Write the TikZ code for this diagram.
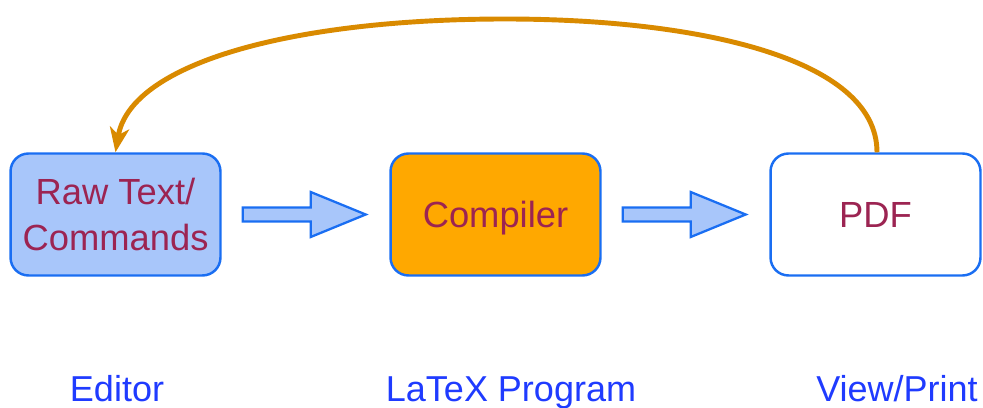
\documentclass[tikz,border=0pt]{standalone}
\usepackage{fontspec}
\setmainfont{Liberation Sans}
\usetikzlibrary{arrows.meta,calc}
\definecolor{boxblue}{HTML}{1A6EF2}
\definecolor{lightblue}{HTML}{A8C6FA}
\definecolor{compileorange}{HTML}{FFA800}
\definecolor{textmaroon}{HTML}{9C2452}
\definecolor{labelblue}{HTML}{1F3BFF}
\definecolor{loopcolor}{HTML}{D98A00}
\begin{document}
\begin{tikzpicture}[x=0.02cm,y=-0.02cm,
  stage/.style={draw=boxblue, line width=1.4pt, rounded corners=0.36cm,
    minimum width=4.2cm, minimum height=2.44cm, align=center,
    text=textmaroon, font=\fontsize{20.7}{26}\selectfont},
  caption/.style={text=labelblue, anchor=base, font=\fontsize{20.5}{24}\selectfont},
  blockarrow/.style={draw=boxblue, fill=lightblue, line width=1.3pt, line join=miter},
  loop/.style={draw=loopcolor, line width=2.8pt,
    -{Stealth[length=14pt,width=11pt,inset=4pt]}}]
  \useasboundingbox (0,0) rectangle (983,408);

  % the three stages
  \node[stage, fill=lightblue] (raw) at (115.5,214.5) {Raw Text/\\Commands};
  \node[stage, fill=compileorange, text depth=0pt] (comp) at (495.5,214.5) {Compiler};
  \node[stage, fill=white] (pdf) at (875.5,214.5) {PDF};

  % block arrows between the stages
  \foreach \src in {raw,comp} {
    \draw[blockarrow]
      ($(\src.east)+(21,-7)$) -- ($(\src.east)+(89,-7)$) -- ($(\src.east)+(89,-22.5)$)
      -- ($(\src.east)+(144,0)$) -- ($(\src.east)+(89,22.5)$) -- ($(\src.east)+(89,7)$)
      -- ($(\src.east)+(21,7)$) -- cycle;
  }

  % feedback loop from the PDF back to the editor
  \coordinate (apex) at (505,19);
  \draw[loop] ($(pdf.north)+(1.5,0)$) .. controls +(0,-95) and +(190,0) .. (apex)
    .. controls +(-210,0) and +(15,-90) .. (raw.north);

  % captions, sharing one baseline
  \node[caption] (ed) at (117,401) {Editor};
  \node[caption] (prog) at (511,401) {LaTeX Program};
  \node[caption] (view) at (897,401) {View/Print};
\end{tikzpicture}
\end{document}
